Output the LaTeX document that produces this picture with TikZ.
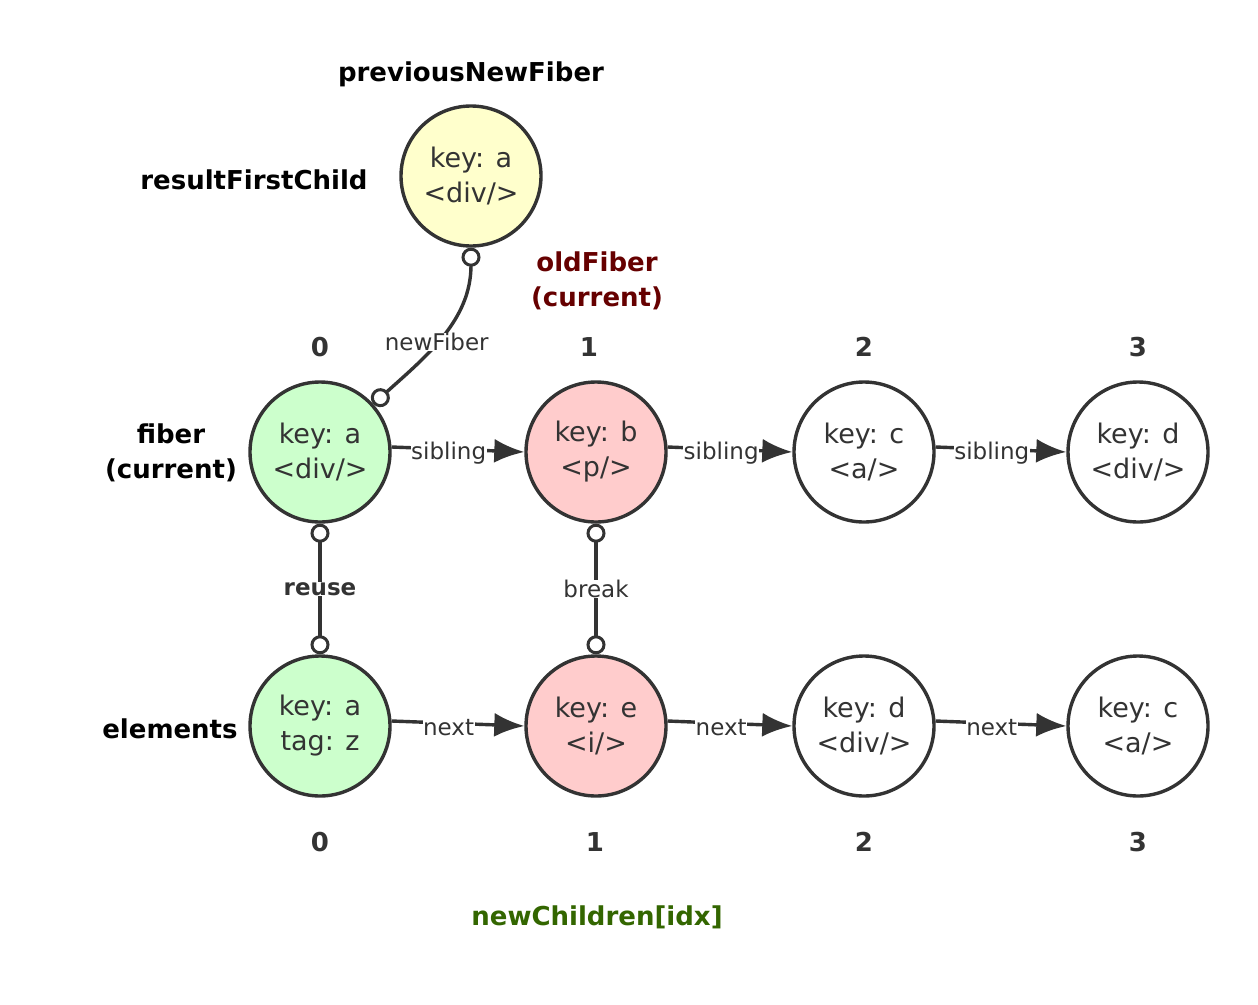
\documentclass[tikz,border=0pt]{standalone}
\usepackage{fontspec}
\setmainfont{DejaVu Sans}
\usetikzlibrary{arrows.meta}
\definecolor{ink}{HTML}{333333}
\definecolor{gfill}{HTML}{CCFFCC}
\definecolor{pfill}{HTML}{FFCCCC}
\definecolor{yfill}{HTML}{FFFFCC}
\definecolor{oldred}{HTML}{660000}
\definecolor{newgreen}{HTML}{336600}
\begin{document}
\begin{tikzpicture}[x=1pt,y=-1pt,
  fnode/.style={circle,draw=ink,line width=3.4pt,minimum size=140pt,inner sep=0pt,
    text=ink,font=\fontsize{27}{35}\selectfont,align=center},
  hdr/.style={font=\bfseries\fontsize{26}{35}\selectfont,text=black,align=center},
  idx/.style={font=\bfseries\fontsize{26}{30}\selectfont,text=ink},
  conn/.style={draw=ink,line width=3.4pt},
  arr/.style={conn,-{Latex[length=30pt,width=24pt]}},
  ball/.style={conn,{Circle[fill=white,length=19pt,line width=3pt]}-{Circle[fill=white,length=19pt,line width=3pt]}},
  lbl/.style={fill=white,inner sep=0.5pt,text=ink,font=\fontsize{23}{27}\selectfont},
  elbl/.style={lbl,pos=0.43,yshift=-4pt}]
\useasboundingbox (0,0) rectangle (1258,1004);
% yellow
\node[fnode,fill=yfill] (y) at (471,176) {key: a\\<div/>};
% top row
\node[fnode,fill=gfill] (f0) at (320,452) {key: a\\<div/>};
\node[fnode,fill=pfill] (f1) at (596,452) {key: b\\<p/>};
\node[fnode,fill=white] (f2) at (864,452) {key: c\\<a/>};
\node[fnode,fill=white] (f3) at (1138,452) {key: d\\<div/>};
% bottom row
\node[fnode,fill=gfill] (e0) at (320,726) {key: a\\tag: z};
\node[fnode,fill=pfill] (e1) at (596,726) {key: e\\<i/>};
\node[fnode,fill=white] (e2) at (864,726) {key: d\\<div/>};
\node[fnode,fill=white] (e3) at (1138,726) {key: c\\<a/>};
% headers
\node[hdr] (pnf) at (471,74) {previousNewFiber};
\node[hdr] (rfc) at (254,180) {resultFirstChild};
\node[hdr,text=oldred] (old) at (597,281) {oldFiber\\(current)};
\node[hdr] (fib) at (171,453) {fiber\\(current)};
\node[hdr] (ele) at (170,729) {elements};
\node[hdr,text=newgreen] (nch) at (597,917) {newChildren[idx]};
% indices
\node[idx] (t0) at (320,347) {0};
\node[idx] (t1) at (589,347) {1};
\node[idx] (t2) at (864,347) {2};
\node[idx] (t3) at (1138,347) {3};
\node[idx] (b0) at (320,842) {0};
\node[idx] (b1) at (595,842) {1};
\node[idx] (b2) at (864,842) {2};
\node[idx] (b3) at (1138,842) {3};
% connectors
\draw[ball] (y.south) to[out=-90,in=42] node[pos=0.55,lbl] {newFiber} (f0.42);
\draw[ball] (f0.south) -- node[lbl,font=\bfseries\fontsize{23}{27}\selectfont] {reuse} (e0.north);
\draw[ball] (f1.south) -- node[lbl] {break} (e1.north);
\draw[arr] (f0.4) -- node[elbl] {sibling} (f1.west);
\draw[arr] (f1.4) -- node[elbl] {sibling} (f2.west);
\draw[arr] (f2.4) -- node[elbl] {sibling} (f3.west);
\draw[arr] (e0.4) -- node[elbl] {next} (e1.west);
\draw[arr] (e1.4) -- node[elbl] {next} (e2.west);
\draw[arr] (e2.4) -- node[elbl] {next} (e3.west);
\end{tikzpicture}
\end{document}
